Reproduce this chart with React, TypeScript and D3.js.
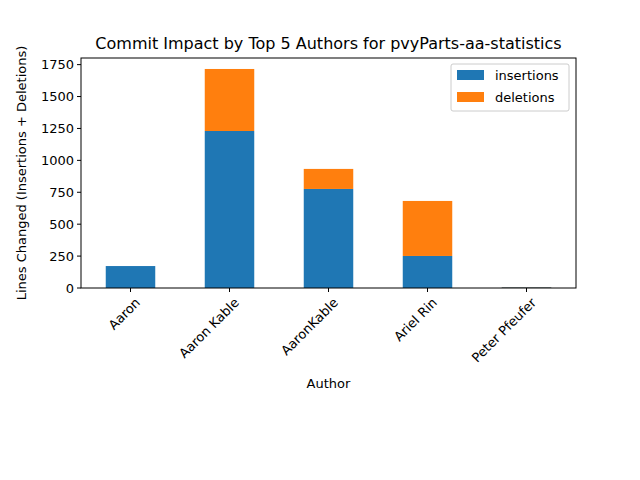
import * as React from 'react';
import * as d3 from 'd3';

const authors = ['Aaron', 'Aaron Kable', 'AaronKable', 'Ariel Rin', 'Peter Pfeufer'];
const insertions = [172, 1230, 776, 251, 5];
const deletions = [0, 486, 157, 431, 2];
const yTicks = [0, 250, 500, 750, 1000, 1250, 1500, 1750];

const W = 640;
const H = 480;
const m = { left: 81, right: 576, top: 58, bottom: 288 };
const font = 'DejaVu Sans, sans-serif';

const App = () => {
  const x = d3.scaleBand<string>().domain(authors).range([m.left, m.right]).paddingInner(0.5).paddingOuter(0.25);
  const y = d3.scaleLinear().domain([0, 1802]).range([m.bottom, m.top]);
  const blue = '#1f77b4';
  const orange = '#ff7f0e';

  return (
    <svg width={W} height={H} style={{ display: 'block', margin: '-8px' }} fontFamily={font}>
      <rect width={W} height={H} fill="white" />
      {authors.map((a, i) => (
        <g key={a}>
          <rect x={x(a)} width={x.bandwidth()} y={y(insertions[i])} height={y(0) - y(insertions[i])} fill={blue} />
          <rect
            x={x(a)}
            width={x.bandwidth()}
            y={y(insertions[i] + deletions[i])}
            height={y(insertions[i]) - y(insertions[i] + deletions[i])}
            fill={orange}
          />
        </g>
      ))}
      <rect x={m.left} y={m.top} width={m.right - m.left} height={m.bottom - m.top} fill="none" stroke="black" strokeWidth={1} />
      {yTicks.map((t) => (
        <g key={t} transform={`translate(0,${y(t)})`}>
          <line x1={m.left - 4} x2={m.left} stroke="black" />
          <text x={m.left - 7} dy="0.35em" textAnchor="end" fontSize={13}>{t}</text>
        </g>
      ))}
      {authors.map((a) => {
        const cx = (x(a) as number) + x.bandwidth() / 2;
        return (
          <g key={a}>
            <line x1={cx} x2={cx} y1={m.bottom} y2={m.bottom + 4} stroke="black" />
            <text transform={`translate(${cx + 4},${m.bottom + 9}) rotate(-45)`} textAnchor="end" dy="0.7em" fontSize={13}>{a}</text>
          </g>
        );
      })}
      <text x={(m.left + m.right) / 2} y={388} textAnchor="middle" fontSize={13}>Author</text>
      <text transform={`translate(26,${(m.top + m.bottom) / 2}) rotate(-90)`} textAnchor="middle" fontSize={13}>
        Lines Changed (Insertions + Deletions)
      </text>
      <text x={(m.left + m.right) / 2} y={49} textAnchor="middle" fontSize={16}>
        Commit Impact by Top 5 Authors for pvyParts-aa-statistics
      </text>
      <g transform="translate(451,64)">
        <rect width={118} height={47} fill="white" stroke="#ccc" rx={2} />
        <rect x={6} y={6} width={27} height={10} fill={blue} />
        <text x={44} y={16} fontSize={13}>insertions</text>
        <rect x={6} y={28} width={27} height={10} fill={orange} />
        <text x={44} y={38} fontSize={13}>deletions</text>
      </g>
    </svg>
  );
};

export default App;
